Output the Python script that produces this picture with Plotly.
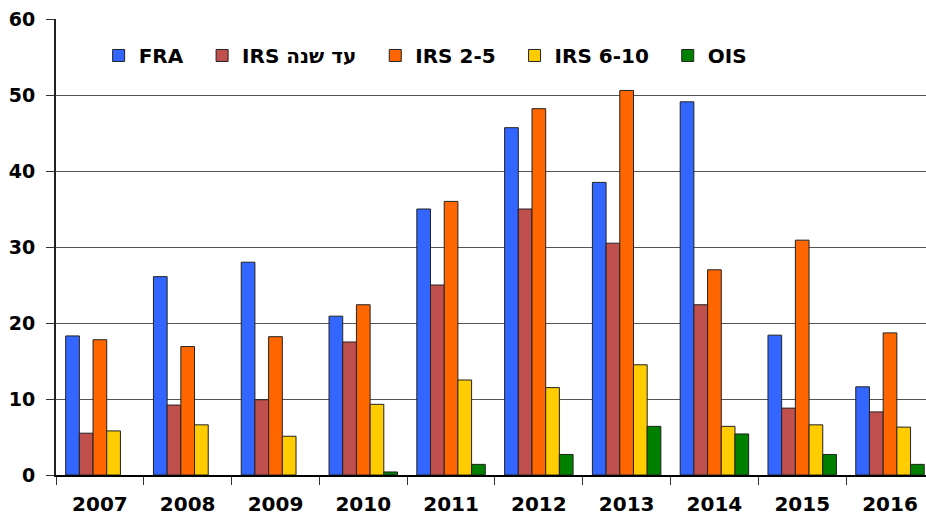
import plotly.graph_objects as go

YEARS = ["2007", "2008", "2009", "2010", "2011", "2012", "2013", "2014", "2015", "2016"]
FRA = [18.3, 26.1, 28.0, 20.9, 35.0, 45.7, 38.5, 49.1, 18.4, 11.6]
IRS_1Y = [5.5, 9.2, 9.9, 17.5, 25.0, 35.0, 30.5, 22.4, 8.8, 8.3]
IRS_2_5 = [17.8, 16.9, 18.2, 22.4, 36.0, 48.2, 50.6, 27.0, 30.9, 18.7]
IRS_6_10 = [5.8, 6.6, 5.1, 9.3, 12.5, 11.5, 14.5, 6.4, 6.6, 6.3]
OIS = [None, None, None, 0.4, 1.4, 2.7, 6.4, 5.4, 2.7, 1.4]  # no OIS before 2010

SERIES = [
    ("FRA", FRA, "#3366FF"),
    ("IRS עד שנה", IRS_1Y, "#C0504D"),
    ("IRS 2-5", IRS_2_5, "#FF6600"),
    ("IRS 6-10", IRS_6_10, "#FFCC00"),
    ("OIS", OIS, "#008000"),
]

FONT = "DejaVu Sans, Verdana, sans-serif"
PAD = "\u00a0\u00a0"  # a bit more room between legend entries

fig = go.Figure()
for name, vals, col in SERIES:
    fig.add_trace(go.Bar(x=YEARS, y=vals, name=name + PAD, marker_color=col,
                         marker_line=dict(color="#222222", width=1)))

fig.update_layout(
    width=926, height=515, barmode="group", bargap=0.22, bargroupgap=0,
    margin=dict(l=56, r=0, t=19, b=40, autoexpand=False),
    paper_bgcolor="white", plot_bgcolor="white",
    font=dict(family=FONT, color="black", size=18, weight="bold"),
    legend=dict(orientation="h", x=0.049, y=0.92, xanchor="left", yanchor="middle",
                font=dict(family=FONT, size=20, weight="bold", color="black"),
                bgcolor="rgba(0,0,0,0)"),
)
fig.update_xaxes(range=[-0.5, 9.41], automargin=False, showline=True, linecolor="black",
                 linewidth=2, ticks="outside", tickson="boundaries", ticklen=8,
                 tickcolor="#333333", ticklabelstandoff=10, ticklabeloverflow="allow",
                 tickfont=dict(size=20, weight="bold"), showgrid=False)
fig.update_yaxes(range=[0, 60], dtick=10, automargin=False, showline=True, linecolor="#222222",
                 linewidth=2, ticks="outside", ticklen=8, tickcolor="#333333",
                 ticklabelstandoff=7, ticklabeloverflow="allow", gridcolor="#555555", gridwidth=1,
                 tickfont=dict(size=19, weight="bold"), zeroline=False)

# drop the default 8px page margin so the figure fills the window
fig.write_html("out.html", config={"displayModeBar": False},
               post_script="document.body.style.margin='0';"
                           "document.body.style.overflow='hidden';")
